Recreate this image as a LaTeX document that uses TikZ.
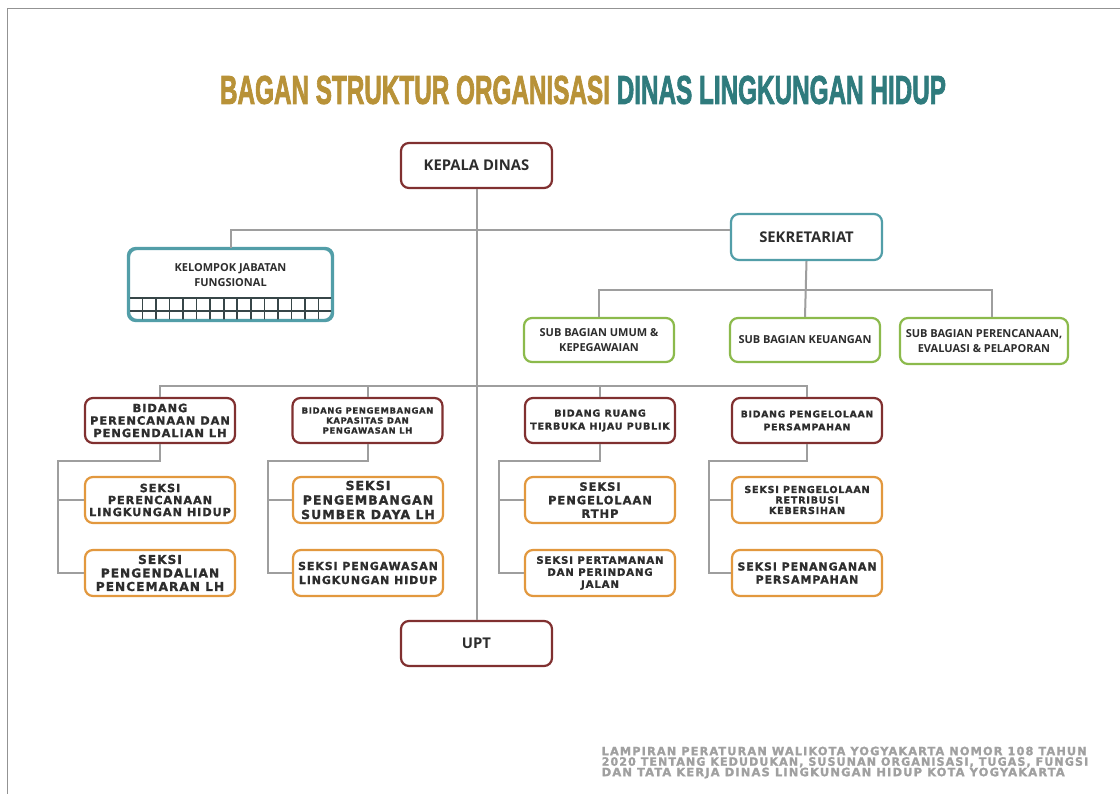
\documentclass[tikz,border=0pt]{standalone}
\usepackage{fontspec}
\usepackage{graphicx}
\setmainfont{Open Sans}
\newfontfamily\osb{Open Sans}
\newfontfamily\dvb[LetterSpace=8,FakeBold=1.2]{DejaVu Sans}
\newfontfamily\lsb[FakeBold=2.5]{Liberation Sans}
\newfontfamily\ftf[LetterSpace=10,FakeBold=1.5]{DejaVu Sans}
\definecolor{cMar}{RGB}{128,48,48}
\definecolor{cTeal}{RGB}{82,158,168}
\definecolor{cGreen}{RGB}{140,186,76}
\definecolor{cOrange}{RGB}{226,152,62}
\definecolor{cLine}{RGB}{158,158,158}
\definecolor{cText}{RGB}{45,45,45}
\definecolor{cGold}{RGB}{184,146,56}
\definecolor{cTealT}{RGB}{47,123,125}
\definecolor{cFoot}{RGB}{160,160,160}
\definecolor{cGrid}{RGB}{55,70,72}
\tikzset{
  box/.style={draw, rounded corners=8pt, line width=2.2pt, fill=white, inner sep=0pt,
    align=center, text=cText, minimum width=150pt, minimum height=45pt},
  marbox/.style={box, draw=cMar},
  tealbox/.style={box, draw=cTeal},
  greenbox/.style={box, draw=cGreen, minimum height=44pt},
  orbox/.style={box, draw=cOrange, minimum height=46pt},
  headf/.style={font={\osb\bfseries\fontsize{14.8}{17}\selectfont}},
  subf/.style={font={\osb\bfseries\fontsize{11}{15}\selectfont}},
  conn/.style={draw=cLine, line width=2pt},
  gridl/.style={draw=cGrid, line width=1.6pt},
  footl/.style={inner sep=0pt, anchor=north west, text=cFoot, font={\ftf\bfseries}},
}
\newcommand{\dv}[2]{\dvb\bfseries\fontsize{#1}{#2}\selectfont}
\begin{document}
\begin{tikzpicture}[x=1pt,y=-1pt]
\useasboundingbox (0,0) rectangle (1120,794);
\fill[white] (0,0) rectangle (1120,794);
\draw[draw=gray!85, line width=1.5pt] (7.5,794) -- (7.5,8.5) -- (1120,8.5);

% title
\node[inner sep=0pt] (title) at (583,90) {\resizebox{726pt}{28pt}{\lsb\bfseries\textcolor{cGold}{BAGAN STRUKTUR ORGANISASI} \textcolor{cTealT}{DINAS LINGKUNGAN HIDUP}}};

% top level
\node[marbox, minimum width=151pt, headf] (kd) at (476.5,165.5) {KEPALA DINAS};
\node[tealbox, minimum width=151pt, minimum height=46pt, headf] (sek) at (806.5,237) {SEKRETARIAT};
\node[tealbox, minimum width=203pt, minimum height=71pt] (kjf) at (230.5,284.5) {};
\node[inner sep=0pt, align=center, text=cText, subf] (kjft) at (230.5,275) {KELOMPOK JABATAN\\FUNGSIONAL};
\begin{scope}
  \clip[rounded corners=7pt] (130,250) rectangle (331,319.5);
  \draw[gridl] (129,298) -- (332,298);
  \draw[gridl] (129,311) -- (332,311);
  \foreach \i in {1,...,14} \draw[gridl] ({129+\i*13.53},298) -- ({129+\i*13.53},321);
\end{scope}
\draw[draw=cTeal, line width=2.2pt, rounded corners=8pt] (kjf.north west) rectangle (kjf.south east);
\node[marbox, minimum width=151pt, headf] (upt) at (476.5,643.5) {UPT};

% sub bagian
\node[greenbox, subf] (sb1) at (599,340) {SUB BAGIAN UMUM \&\\KEPEGAWAIAN};
\node[greenbox, subf] (sb2) at (805,340) {SUB BAGIAN KEUANGAN};
\node[greenbox, subf, minimum width=168pt, minimum height=46pt] (sb3) at (984,341) {SUB BAGIAN PERENCANAAN,\\EVALUASI \& PELAPORAN};

% bidang
\node[marbox, font={\dv{11.4}{12.5}}] (b1) at (160,420.5) {BIDANG\\PERENCANAAN DAN\\PENGENDALIAN LH};
\node[marbox, font={\dv{8.4}{10}}] (b2) at (367.5,420.5) {BIDANG PENGEMBANGAN\\KAPASITAS DAN\\PENGAWASAN LH};
\node[marbox, font={\dv{9.6}{13}}] (b3) at (600,420.5) {BIDANG RUANG\\TERBUKA HIJAU PUBLIK};
\node[marbox, font={\dv{9.3}{13}}] (b4) at (807,420.5) {BIDANG PENGELOLAAN\\PERSAMPAHAN};

% seksi
\node[orbox, font={\dv{11.3}{12}}] (s1) at (160,500) {SEKSI\\PERENCANAAN\\LINGKUNGAN HIDUP};
\node[orbox, font={\dv{12.2}{13.5}}] (s2) at (160,573) {SEKSI\\PENGENDALIAN\\PENCEMARAN LH};
\node[orbox, font={\dv{12.5}{14.5}}] (s3) at (368,500) {SEKSI\\PENGEMBANGAN\\SUMBER DAYA LH};
\node[orbox, font={\dv{11}{14}}] (s4) at (368,573) {SEKSI PENGAWASAN\\LINGKUNGAN HIDUP};
\node[orbox, font={\dv{11.5}{13.5}}] (s5) at (600,500) {SEKSI\\PENGELOLAAN\\RTHP};
\node[orbox, font={\dv{10.2}{12}}] (s6) at (600,573) {SEKSI PERTAMANAN\\DAN PERINDANG\\JALAN};
\node[orbox, font={\dv{9.6}{10.5}}] (s7) at (807,500) {SEKSI PENGELOLAAN\\RETRIBUSI\\KEBERSIHAN};
\node[orbox, font={\dv{11}{13}}] (s8) at (807,573) {SEKSI PENANGANAN\\PERSAMPAHAN};

% connectors
\coordinate (jk) at (476.5,230);
\coordinate (js) at (992,290);
\coordinate (bus) at (476.5,386);
\draw[conn] (kd.south) -- (upt.north);
\draw[conn] (kjf.north) |- (jk) -- (jk -| sek.west);
\draw[conn] (sek.south) -- (sb2.north);
\draw[conn] (sb1.north) |- (js) -- (js |- sb3.north);
\draw[conn] (b1.north) |- (bus) -| (b4.north);
\draw[conn] (b2.north) -- (b2.north |- bus);
\draw[conn] (b3.north) -- (b3.north |- bus);

\coordinate (t1) at (58,461);
\coordinate (t2) at (268,461);
\coordinate (t3) at (499,461);
\coordinate (t4) at (709,461);
\draw[conn] (b1.south) |- (t1) -- (t1 |- s2.west) -- (s2.west);
\draw[conn] (t1 |- s1.west) -- (s1.west);
\draw[conn] (b2.south) |- (t2) -- (t2 |- s4.west) -- (s4.west);
\draw[conn] (t2 |- s3.west) -- (s3.west);
\draw[conn] (b3.south) |- (t3) -- (t3 |- s6.west) -- (s6.west);
\draw[conn] (t3 |- s5.west) -- (s5.west);
\draw[conn] (b4.south) |- (t4) -- (t4 |- s8.west) -- (s8.west);
\draw[conn] (t4 |- s7.west) -- (s7.west);

% footer
\node[footl] (f1) at (601.5,746.5) {\resizebox{485pt}{8.5pt}{LAMPIRAN PERATURAN WALIKOTA YOGYAKARTA NOMOR 108 TAHUN}};
\node[footl] (f2) at (601.5,757) {\resizebox{486.5pt}{8.5pt}{2020 TENTANG KEDUDUKAN, SUSUNAN ORGANISASI, TUGAS, FUNGSI}};
\node[footl] (f3) at (601.5,767.5) {\resizebox{463pt}{8.5pt}{DAN TATA KERJA DINAS LINGKUNGAN HIDUP KOTA YOGYAKARTA}};
\end{tikzpicture}
\end{document}
